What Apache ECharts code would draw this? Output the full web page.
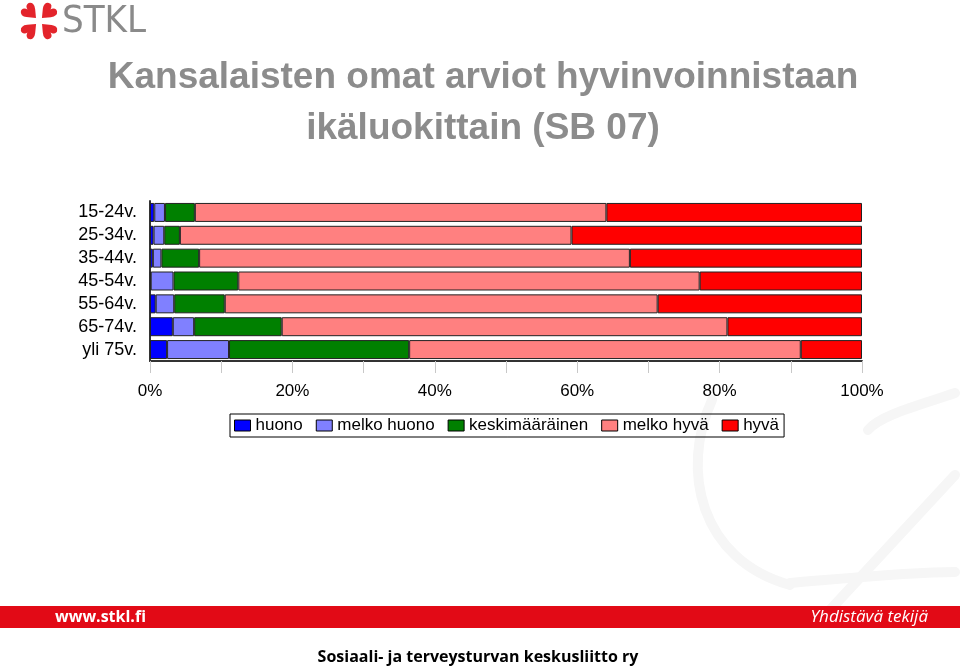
<!DOCTYPE html>
<html>
<head>
<meta charset="utf-8">
<script src="https://cdn.jsdelivr.net/npm/echarts@6/dist/echarts.min.js"></script>
<style>
  html, body { margin: 0; padding: 0; background: #fff; }
  #chart { width: 960px; height: 668px; }
</style>
</head>
<body>
<div id="chart"></div>
<script>
  // ikäryhmät ylhäältä alas
  var categories = ['15-24v.', '25-34v.', '35-44v.', '45-54v.', '55-64v.', '65-74v.', 'yli 75v.']
  var seriesNames = ['huono', 'melko huono', 'keskimääräinen', 'melko hyvä', 'hyvä']
  // prosentit luettu kuvasta
  var huono = [0.6, 0.5, 0.4, 0.1, 0.8, 3.2, 2.4]
  var melkoHuono = [1.5, 1.5, 1.2, 3.2, 2.6, 3.0, 8.7]
  var keskimaarainen = [4.2, 2.2, 5.3, 9.1, 7.1, 12.3, 25.3]
  var melkoHyva = [57.8, 55.0, 60.5, 64.8, 60.8, 62.6, 55.0]
  var hyva = [35.9, 40.8, 32.6, 22.8, 28.7, 18.9, 8.6]
  var xTicks = ['0%', '10%', '20%', '30%', '40%', '50%', '60%', '70%', '80%', '90%', '100%']

  var colors = ['#0000ff', '#8080ff', '#008000', '#ff8080', '#ff0000']
  var values = [huono, melkoHuono, keskimaarainen, melkoHyva, hyva]

  var myChart = echarts.init(document.getElementById('chart'))

  var series = seriesNames.map(function (name, i) {
    return {
      name: name,
      type: 'bar',
      stack: 'all',
      barCategoryGap: '17%',
      itemStyle: {
        color: colors[i],
        borderColor: '#222',
        borderWidth: 1
      },
      emphasis: { disabled: true },
      data: values[i]
    }
  })

  // taustan vaalea kaari (logon "e")
  var watermark = [
    { type: 'bezierCurve', shape: { x1: 712, y1: 400, cpx1: 680, cpy1: 470, cpx2: 700, cpy2: 560, x2: 790, y2: 585 } },
    { type: 'bezierCurve', shape: { x1: 790, y1: 583, cpx1: 850, cpy1: 578, cpx2: 910, cpy2: 572, x2: 955, y2: 572 } },
    { type: 'line', shape: { x1: 955, y1: 475, x2: 830, y2: 610 } },
    { type: 'bezierCurve', shape: { x1: 955, y1: 393, cpx1: 920, cpy1: 405, cpx2: 880, cpy2: 415, x2: 868, y2: 430 } }
  ].map(function (g) {
    g.z = -10
    g.style = { stroke: '#f6f6f6', lineWidth: 10, fill: null, lineCap: 'round' }
    return g
  })

  // logon sydämet
  var hearts = [[32, 14, Math.PI / 4], [46, 14, -Math.PI / 4], [32, 28, 3 * Math.PI / 4], [46, 28, -3 * Math.PI / 4]].map(function (h) {
    return {
      type: 'text',
      x: h[0],
      y: h[1],
      rotation: h[2],
      style: {
        text: '♥',
        fill: '#e3242b',
        font: '22px "DejaVu Sans"',
        align: 'center',
        verticalAlign: 'middle'
      }
    }
  })

  var option = {
    animation: false,
    color: colors,
    title: {
      text: 'Kansalaisten omat arviot hyvinvoinnistaan\nikäluokittain (SB 07)',
      left: 478,
      textAlign: 'center',
      top: 47,
      textStyle: {
        color: '#8c8c8c',
        fontFamily: 'Arial',
        fontWeight: 'bold',
        fontSize: 37,
        lineHeight: 51
      }
    },
    legend: {
      data: seriesNames,
      left: 230,
      top: 414,
      padding: [3, 5, 3, 4],
      borderColor: '#000',
      borderWidth: 1,
      itemWidth: 16,
      itemHeight: 11,
      itemGap: 13,
      icon: 'rect',
      itemStyle: { borderColor: '#000', borderWidth: 1 },
      textStyle: {
        color: '#000',
        fontFamily: 'Arial',
        fontSize: 17
      }
    },
    grid: {
      left: 150,
      right: 98,
      top: 201,
      bottom: 307
    },
    xAxis: {
      type: 'value',
      min: 0,
      max: 100,
      interval: 10,
      axisLine: { show: true, lineStyle: { color: '#333', width: 2 } },
      axisTick: { show: true, length: 12, lineStyle: { color: '#c8c8c8' } },
      splitLine: { show: false },
      axisLabel: {
        margin: 22,
        color: '#000',
        fontFamily: 'Arial',
        fontSize: 17,
        formatter: function (value) {
          var label = xTicks[Math.round(value / 10)]
          return value % 20 === 0 ? label : ''
        }
      }
    },
    yAxis: {
      type: 'category',
      inverse: true,
      data: categories,
      axisLine: { show: true, lineStyle: { color: '#333', width: 2 } },
      axisTick: { show: false },
      axisLabel: {
        interval: 0,
        margin: 13,
        color: '#000',
        fontFamily: 'Arial',
        fontSize: 18
      }
    },
    graphic: watermark.concat(hearts).concat([
      {
        type: 'text',
        x: 62,
        y: 22,
        style: {
          text: 'STKL',
          fill: '#8a8a8a',
          font: '38px "DejaVu Sans Condensed", "DejaVu Sans"',
          verticalAlign: 'middle'
        }
      },
      {
        type: 'rect',
        shape: { x: 0, y: 606, width: 960, height: 22 },
        style: { fill: '#e20a16' }
      },
      {
        type: 'text',
        x: 55,
        y: 617,
        style: {
          text: 'www.stkl.fi',
          fill: '#fff',
          font: 'bold 16px "Open Sans"',
          verticalAlign: 'middle'
        }
      },
      {
        type: 'text',
        x: 928,
        y: 617,
        style: {
          text: 'Yhdistävä tekijä',
          fill: '#fff',
          font: 'italic 17px "Open Sans"',
          align: 'right',
          verticalAlign: 'middle'
        }
      },
      {
        type: 'text',
        x: 478,
        y: 657,
        style: {
          text: 'Sosiaali- ja terveysturvan keskusliitto ry',
          fill: '#000',
          font: 'bold 16px "Open Sans"',
          align: 'center',
          verticalAlign: 'middle'
        }
      }
    ]),
    series: series
  }

  myChart.setOption(option)
</script>
</body>
</html>
